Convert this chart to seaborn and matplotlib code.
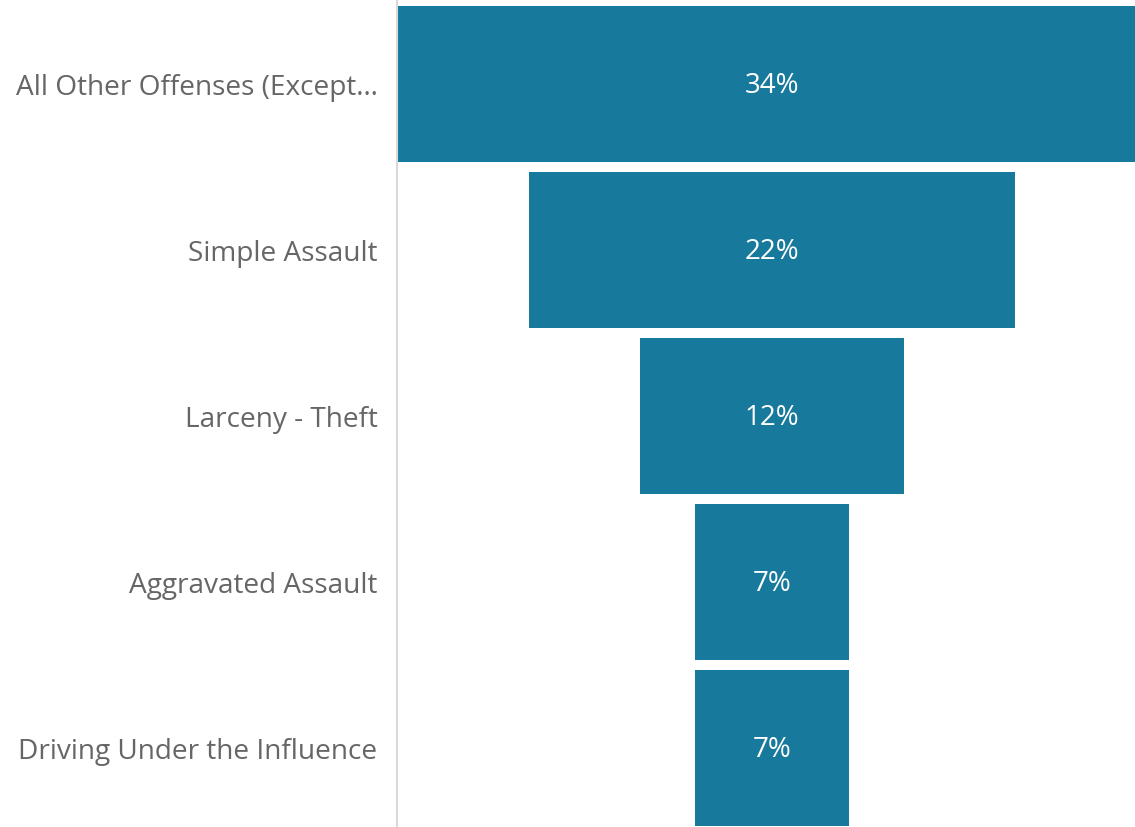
import matplotlib
matplotlib.use("Agg")
import matplotlib.pyplot as plt
import seaborn as sns
import pandas as pd

categories = ["All Other Offenses (Except\u2026", "Simple Assault", "Larceny - Theft",
              "Aggravated Assault", "Driving Under the Influence"]
values = [34, 22, 12, 7, 7]
value_labels = ["34%", "22%", "12%", "7%", "7%"]

sns.set_theme(style="white")
plt.rcParams["font.family"] = ["Open Sans", "DejaVu Sans"]

df = pd.DataFrame({"cat": categories, "val": values})

fig = plt.figure(figsize=(11.35, 8.27), dpi=100)
# plot area extends slightly past the right edge, so the widest bar is clipped
ax = fig.add_axes([397 / 1135, 0, 750 / 1135, 1])
sns.barplot(data=df, x="val", y="cat", orient="h", color="#177A9C", saturation=1,
            width=0.94, linewidth=0, ax=ax)

vmax = max(values)
ax.set_xlim(0, vmax)
for p, lab in zip(ax.patches, value_labels):
    w = p.get_width()
    p.set_x((vmax - w) / 2)
    p.set_linewidth(0)
    ax.text(vmax / 2, p.get_y() + p.get_height() / 2 + 0.01, lab, ha="center",
            va="center", color="white", fontsize=20)

top = -0.47 - 6 / 166
ax.set_ylim(top + 827 / 166, top)
ax.set_xlabel("")
ax.set_ylabel("")
ax.set_xticks([])
for s in ["top", "right", "bottom"]:
    ax.spines[s].set_visible(False)
ax.spines["left"].set_color("#D9D9D9")
ax.spines["left"].set_linewidth(1.5)
ax.tick_params(axis="y", length=0, pad=14, labelsize=20.2, labelcolor="#666666")

fig.savefig("out.png", dpi=100)
